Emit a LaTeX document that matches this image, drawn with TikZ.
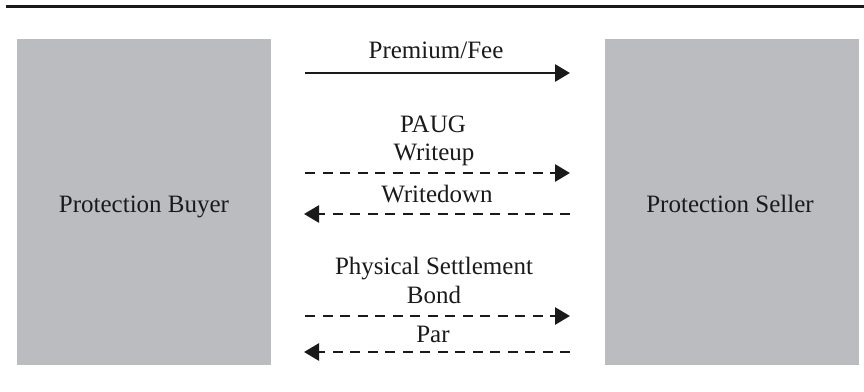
\documentclass[tikz,border=0pt]{standalone}
\usepackage{fontspec}
\setmainfont{Liberation Serif}
\usetikzlibrary{arrows.meta}
\definecolor{boxgray}{HTML}{BBBCC0}
\definecolor{ink}{HTML}{1A1A1A}
\begin{document}
\begin{tikzpicture}[x=1pt,y=-1pt,
  party/.style={fill=boxgray,draw=none,inner sep=0pt,minimum width=254pt,minimum height=326pt,
    font=\fontsize{25}{30}\selectfont,text=ink},
  lbl/.style={anchor=base,inner sep=0pt,font=\fontsize{25}{30}\selectfont,text=ink},
  flow/.style={draw=ink,line width=2.8pt,-{Triangle[length=15pt,width=17pt]}},
  dflow/.style={flow,dash pattern=on 10pt off 7.5pt}]
\useasboundingbox (0,0) rectangle (864,391);
% heading rule
\draw[ink,line width=3pt] (6,6.5) -- (864,6.5);
% the two parties
\node[party] (buyer) at (144,202) {};
\node[lbl] (buyertxt) at (144,212) {Protection Buyer};
\node[party] (seller) at (732,202) {};
\node[lbl] (sellertxt) at (730,212) {Protection Seller};
% arrow end points
\coordinate (a1) at (305,73);  \coordinate (b1) at (570,73);
\coordinate (a2) at (305,173); \coordinate (b2) at (570,173);
\coordinate (a3) at (304,214); \coordinate (b3) at (570,214);
\coordinate (a4) at (305,316); \coordinate (b4) at (570,316);
\coordinate (a5) at (304,352); \coordinate (b5) at (570,352);
% flows
\draw[flow] (a1) -- (b1);
\draw[dflow] (a2) -- (b2);
\draw[dflow] (b3) -- (a3);
\draw[dflow] (a4) -- (b4);
\draw[dflow] (b5) -- (a5);
% labels
\node[lbl] (prem) at (436,58) {Premium/Fee};
\node[lbl] (paug) at (433,132) {PAUG};
\node[lbl] (wup) at (434,160) {Writeup};
\node[lbl] (wdown) at (437,202) {Writedown};
\node[lbl] (phys) at (434,274) {Physical Settlement};
\node[lbl] (bond) at (434,303) {Bond};
\node[lbl] (par) at (433,342) {Par};
\end{tikzpicture}
\end{document}
